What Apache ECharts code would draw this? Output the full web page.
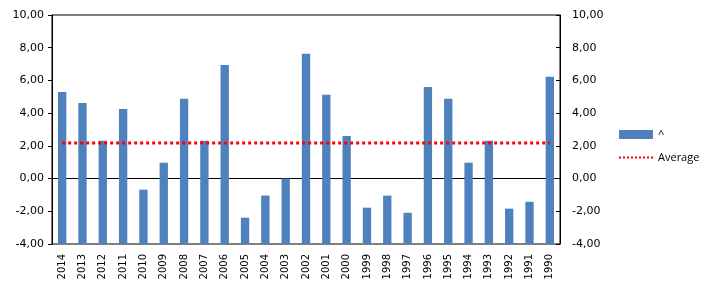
<!DOCTYPE html>
<html>
<head>
<meta charset="utf-8">
<script src="https://cdn.jsdelivr.net/npm/echarts@6/dist/echarts.min.js"></script>
<style>
html,body{margin:0;padding:0;background:#fff;}
#chart{width:725px;height:299px;}
</style>
</head>
<body>
<div id="chart"></div>
<script>
var categories = ['2014','2013','2012','2011','2010','2009','2008','2007','2006','2005','2004','2003','2002','2001','2000','1999','1998','1997','1996','1995','1994','1993','1992','1991','1990'];
var values = [5.29, 4.62, 2.31, 4.25, -0.68, 0.97, 4.88, 2.31, 6.95, -2.39, -1.04, 0.0, 7.63, 5.12, 2.61, -1.78, -1.04, -2.09, 5.6, 4.88, 0.97, 2.31, -1.84, -1.42, 6.22];
var averagePoints = [['2014', 2.17], ['1990', 2.17]];
var yMin = -4, yMax = 10, yStep = 2;
var seriesNames = ['^', 'Average'];

var chart = echarts.init(document.getElementById('chart'), null, {renderer: 'canvas'});
function fmt(v){ return v.toFixed(2).replace('.', ','); }
var labelFont = {fontFamily: 'DejaVu Sans', fontSize: 11, color: '#000'};
var option = {
  animation: false,
  backgroundColor: '#fff',
  grid: {left: 52, right: 165, top: 15, bottom: 55, show: true, borderColor: '#000', borderWidth: 1, containLabel: false},
  legend: {
    orient: 'vertical', left: 613, top: 124, itemWidth: 34, itemHeight: 9, itemGap: 12,
    textStyle: {fontFamily: 'Open Sans', fontSize: 11, color: '#000'},
    data: [{name: seriesNames[0], icon: 'rect'}, {name: seriesNames[1], itemStyle: {opacity: 0}}]
  },
  xAxis: {
    type: 'category', data: categories, boundaryGap: true,
    axisLine: {lineStyle: {color: '#000', width: 1}},
    axisTick: {inside: true, length: 4, lineStyle: {color: '#000'}},
    axisLabel: {rotate: 90, margin: 10, interval: 0, fontFamily: 'DejaVu Sans', fontSize: 10, color: '#000'},
    splitLine: {show: false}
  },
  yAxis: [
    {type: 'value', min: yMin, max: yMax, interval: yStep, position: 'left',
     axisLine: {show: true, lineStyle: {color: '#000'}},
     axisTick: {show: true, length: 4, lineStyle: {color: '#000'}},
     axisLabel: Object.assign({formatter: fmt, margin: 8}, labelFont),
     splitLine: {show: false}},
    {type: 'value', min: yMin, max: yMax, interval: yStep, position: 'right',
     axisLine: {show: true, lineStyle: {color: '#000'}},
     axisTick: {show: true, inside: true, length: 4, lineStyle: {color: '#000'}},
     axisLabel: Object.assign({formatter: fmt, margin: 12}, labelFont),
     splitLine: {show: false}}
  ],
  series: [
    {
      name: seriesNames[0], type: 'custom', xAxisIndex: 0, yAxisIndex: 0,
      itemStyle: {color: '#4F81BD'},
      encode: {x: 0, y: 1},
      data: values.map(function(v, i){ return [categories[i], v]; }),
      renderItem: function(params, api){
        var idx = api.value(0), v = api.value(1);
        var top = api.coord([idx, v]);
        var base = api.coord([idx, yMin]);
        var w = api.size([1, 0])[0] * 0.41;
        return {type: 'rect', shape: {x: top[0] - w / 2, y: top[1], width: w, height: base[1] - top[1]}, style: api.style()};
      },
      z: 2
    },
    {
      name: seriesNames[1], type: 'line', xAxisIndex: 0, yAxisIndex: 0,
      data: averagePoints, symbol: 'none',
      lineStyle: {color: '#FF0000', width: 3, type: 'dotted'},
      itemStyle: {color: '#FF0000'},
      z: 3
    }
  ]
};
chart.setOption(option);
</script>
</body>
</html>
